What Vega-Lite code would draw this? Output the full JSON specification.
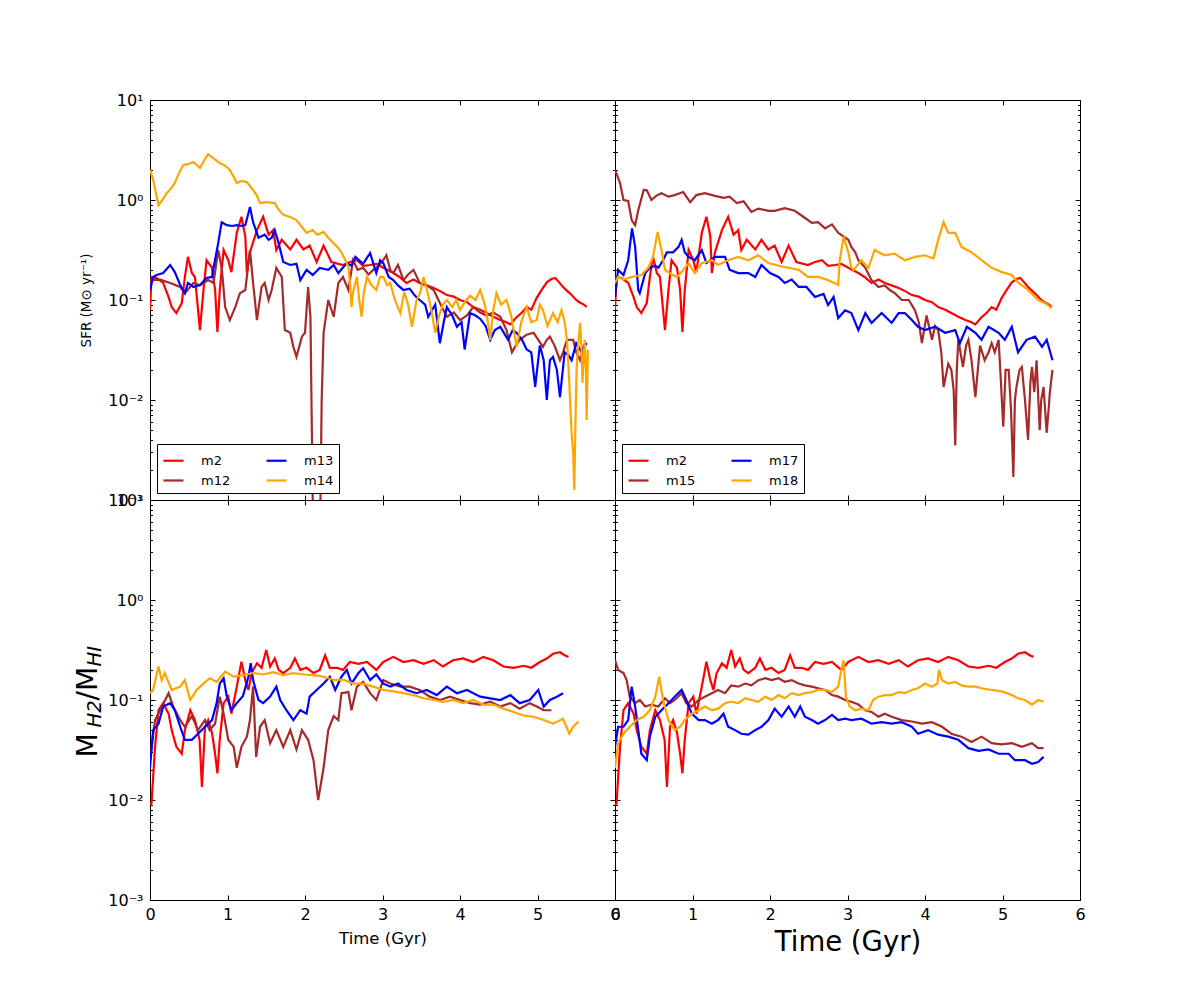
{
  "$schema": "https://vega.github.io/schema/vega-lite/v6.json",
  "padding": {"left": 73, "top": 91, "right": 5, "bottom": 5},
  "background": "white",
  "config": {
    "view": {"stroke": "black", "strokeWidth": 1},
    "axis": {"grid": false, "domainColor": "black", "tickColor": "black", "labelColor": "black", "titleColor": "black", "labelFont": "DejaVu Sans", "titleFont": "DejaVu Sans", "titleFontWeight": "normal", "labelFlush": false, "labelOverlap": false, "labelFontSize": 16, "tickWidth": 1},
    "legend": {"labelFont": "DejaVu Sans", "labelFontSize": 13, "labelColor": "black"},
    "line": {"strokeWidth": 2.2, "clip": true}
  },
  "datasets": {
    "sfr": [
      {"model":"m2","t":0,"v":0.079},{"model":"m2","t":0.02,"v":0.17},{"model":"m2","t":0.09,"v":0.165},{"model":"m2","t":0.17,"v":0.148},{"model":"m2","t":0.24,"v":0.107},{"model":"m2","t":0.28,"v":0.085},{"model":"m2","t":0.34,"v":0.074},{"model":"m2","t":0.41,"v":0.093},{"model":"m2","t":0.45,"v":0.17},{"model":"m2","t":0.49,"v":0.27},{"model":"m2","t":0.54,"v":0.186},{"model":"m2","t":0.58,"v":0.17},{"model":"m2","t":0.645,"v":0.05},{"model":"m2","t":0.69,"v":0.126},{"model":"m2","t":0.73,"v":0.25},{"model":"m2","t":0.8,"v":0.21},{"model":"m2","t":0.84,"v":0.126},{"model":"m2","t":0.87,"v":0.048},{"model":"m2","t":0.9,"v":0.126},{"model":"m2","t":0.95,"v":0.316},{"model":"m2","t":1.01,"v":0.25},{"model":"m2","t":1.05,"v":0.19},{"model":"m2","t":1.12,"v":0.47},{"model":"m2","t":1.18,"v":0.68},{"model":"m2","t":1.23,"v":0.43},{"model":"m2","t":1.25,"v":0.186},{"model":"m2","t":1.29,"v":0.3},{"model":"m2","t":1.38,"v":0.5},{"model":"m2","t":1.46,"v":0.68},{"model":"m2","t":1.53,"v":0.45},{"model":"m2","t":1.59,"v":0.5},{"model":"m2","t":1.63,"v":0.316},{"model":"m2","t":1.7,"v":0.4},{"model":"m2","t":1.81,"v":0.32},{"model":"m2","t":1.89,"v":0.4},{"model":"m2","t":1.98,"v":0.32},{"model":"m2","t":2.06,"v":0.35},{"model":"m2","t":2.15,"v":0.24},{"model":"m2","t":2.24,"v":0.35},{"model":"m2","t":2.34,"v":0.24},{"model":"m2","t":2.49,"v":0.224},{"model":"m2","t":2.58,"v":0.24},{"model":"m2","t":2.67,"v":0.25},{"model":"m2","t":2.75,"v":0.22},{"model":"m2","t":2.84,"v":0.224},{"model":"m2","t":2.92,"v":0.23},{"model":"m2","t":3.01,"v":0.21},{"model":"m2","t":3.14,"v":0.186},{"model":"m2","t":3.22,"v":0.17},{"model":"m2","t":3.31,"v":0.148},{"model":"m2","t":3.4,"v":0.16},{"model":"m2","t":3.48,"v":0.148},{"model":"m2","t":3.57,"v":0.14},{"model":"m2","t":3.66,"v":0.132},{"model":"m2","t":3.75,"v":0.122},{"model":"m2","t":3.83,"v":0.112},{"model":"m2","t":3.92,"v":0.108},{"model":"m2","t":4.0,"v":0.1},{"model":"m2","t":4.09,"v":0.095},{"model":"m2","t":4.17,"v":0.085},{"model":"m2","t":4.26,"v":0.08},{"model":"m2","t":4.34,"v":0.074},{"model":"m2","t":4.43,"v":0.068},{"model":"m2","t":4.52,"v":0.063},{"model":"m2","t":4.6,"v":0.06},{"model":"m2","t":4.65,"v":0.057},{"model":"m2","t":4.72,"v":0.066},{"model":"m2","t":4.8,"v":0.075},{"model":"m2","t":4.86,"v":0.085},{"model":"m2","t":4.92,"v":0.08},{"model":"m2","t":4.99,"v":0.105},{"model":"m2","t":5.05,"v":0.125},{"model":"m2","t":5.12,"v":0.15},{"model":"m2","t":5.18,"v":0.162},{"model":"m2","t":5.23,"v":0.166},{"model":"m2","t":5.28,"v":0.15},{"model":"m2","t":5.33,"v":0.135},{"model":"m2","t":5.39,"v":0.122},{"model":"m2","t":5.44,"v":0.112},{"model":"m2","t":5.5,"v":0.1},{"model":"m2","t":5.55,"v":0.094},{"model":"m2","t":5.6,"v":0.09},{"model":"m2","t":5.635,"v":0.085},
      {"model":"m12","t":0,"v":0.15},{"model":"m12","t":0.02,"v":0.158},{"model":"m12","t":0.13,"v":0.16},{"model":"m12","t":0.26,"v":0.148},{"model":"m12","t":0.39,"v":0.135},{"model":"m12","t":0.45,"v":0.117},{"model":"m12","t":0.56,"v":0.148},{"model":"m12","t":0.645,"v":0.14},{"model":"m12","t":0.75,"v":0.158},{"model":"m12","t":0.82,"v":0.148},{"model":"m12","t":0.88,"v":0.316},{"model":"m12","t":0.925,"v":0.21},{"model":"m12","t":0.97,"v":0.085},{"model":"m12","t":1.03,"v":0.063},{"model":"m12","t":1.1,"v":0.085},{"model":"m12","t":1.16,"v":0.117},{"model":"m12","t":1.23,"v":0.126},{"model":"m12","t":1.29,"v":0.316},{"model":"m12","t":1.33,"v":0.148},{"model":"m12","t":1.38,"v":0.063},{"model":"m12","t":1.44,"v":0.135},{"model":"m12","t":1.48,"v":0.148},{"model":"m12","t":1.53,"v":0.1},{"model":"m12","t":1.57,"v":0.126},{"model":"m12","t":1.63,"v":0.209},{"model":"m12","t":1.7,"v":0.17},{"model":"m12","t":1.74,"v":0.05},{"model":"m12","t":1.81,"v":0.047},{"model":"m12","t":1.85,"v":0.034},{"model":"m12","t":1.89,"v":0.027},{"model":"m12","t":1.96,"v":0.043},{"model":"m12","t":2.0,"v":0.047},{"model":"m12","t":2.04,"v":0.135},{"model":"m12","t":2.07,"v":0.068},{"model":"m12","t":2.1,"v":0.001},{"model":"m12","t":2.12,"v":0.0003},{"model":"m12","t":2.18,"v":0.0003},{"model":"m12","t":2.2,"v":0.001},{"model":"m12","t":2.215,"v":0.01},{"model":"m12","t":2.24,"v":0.047},{"model":"m12","t":2.3,"v":0.1},{"model":"m12","t":2.37,"v":0.068},{"model":"m12","t":2.43,"v":0.148},{"model":"m12","t":2.49,"v":0.17},{"model":"m12","t":2.56,"v":0.126},{"model":"m12","t":2.62,"v":0.25},{"model":"m12","t":2.68,"v":0.2},{"model":"m12","t":2.75,"v":0.21},{"model":"m12","t":2.82,"v":0.18},{"model":"m12","t":2.88,"v":0.2},{"model":"m12","t":2.95,"v":0.22},{"model":"m12","t":3.01,"v":0.25},{"model":"m12","t":3.05,"v":0.28},{"model":"m12","t":3.1,"v":0.2},{"model":"m12","t":3.14,"v":0.186},{"model":"m12","t":3.2,"v":0.224},{"model":"m12","t":3.27,"v":0.158},{"model":"m12","t":3.33,"v":0.18},{"model":"m12","t":3.4,"v":0.2},{"model":"m12","t":3.48,"v":0.148},{"model":"m12","t":3.57,"v":0.14},{"model":"m12","t":3.66,"v":0.126},{"model":"m12","t":3.75,"v":0.09},{"model":"m12","t":3.83,"v":0.068},{"model":"m12","t":3.92,"v":0.075},{"model":"m12","t":4.0,"v":0.063},{"model":"m12","t":4.09,"v":0.07},{"model":"m12","t":4.17,"v":0.085},{"model":"m12","t":4.26,"v":0.075},{"model":"m12","t":4.34,"v":0.07},{"model":"m12","t":4.43,"v":0.075},{"model":"m12","t":4.52,"v":0.068},{"model":"m12","t":4.6,"v":0.05},{"model":"m12","t":4.67,"v":0.03},{"model":"m12","t":4.72,"v":0.035},{"model":"m12","t":4.77,"v":0.04},{"model":"m12","t":4.86,"v":0.045},{"model":"m12","t":4.95,"v":0.047},{"model":"m12","t":5.01,"v":0.04},{"model":"m12","t":5.07,"v":0.034},{"model":"m12","t":5.12,"v":0.04},{"model":"m12","t":5.16,"v":0.043},{"model":"m12","t":5.22,"v":0.035},{"model":"m12","t":5.29,"v":0.025},{"model":"m12","t":5.33,"v":0.03},{"model":"m12","t":5.38,"v":0.04},{"model":"m12","t":5.46,"v":0.04},{"model":"m12","t":5.5,"v":0.03},{"model":"m12","t":5.55,"v":0.025},{"model":"m12","t":5.6,"v":0.035},{"model":"m12","t":5.635,"v":0.037},
      {"model":"m13","t":0,"v":0.126},{"model":"m13","t":0.04,"v":0.17},{"model":"m13","t":0.086,"v":0.178},{"model":"m13","t":0.17,"v":0.186},{"model":"m13","t":0.26,"v":0.224},{"model":"m13","t":0.32,"v":0.19},{"model":"m13","t":0.39,"v":0.141},{"model":"m13","t":0.45,"v":0.117},{"model":"m13","t":0.49,"v":0.148},{"model":"m13","t":0.56,"v":0.135},{"model":"m13","t":0.645,"v":0.141},{"model":"m13","t":0.73,"v":0.166},{"model":"m13","t":0.8,"v":0.17},{"model":"m13","t":0.82,"v":0.21},{"model":"m13","t":0.88,"v":0.37},{"model":"m13","t":0.925,"v":0.6},{"model":"m13","t":0.99,"v":0.56},{"model":"m13","t":1.06,"v":0.55},{"model":"m13","t":1.12,"v":0.56},{"model":"m13","t":1.18,"v":0.55},{"model":"m13","t":1.23,"v":0.56},{"model":"m13","t":1.29,"v":0.85},{"model":"m13","t":1.33,"v":0.6},{"model":"m13","t":1.4,"v":0.42},{"model":"m13","t":1.48,"v":0.45},{"model":"m13","t":1.53,"v":0.4},{"model":"m13","t":1.57,"v":0.42},{"model":"m13","t":1.61,"v":0.5},{"model":"m13","t":1.66,"v":0.37},{"model":"m13","t":1.72,"v":0.24},{"model":"m13","t":1.81,"v":0.224},{"model":"m13","t":1.89,"v":0.23},{"model":"m13","t":1.94,"v":0.158},{"model":"m13","t":2.02,"v":0.2},{"model":"m13","t":2.1,"v":0.178},{"model":"m13","t":2.19,"v":0.209},{"model":"m13","t":2.3,"v":0.2},{"model":"m13","t":2.37,"v":0.224},{"model":"m13","t":2.43,"v":0.186},{"model":"m13","t":2.54,"v":0.234},{"model":"m13","t":2.6,"v":0.22},{"model":"m13","t":2.65,"v":0.27},{"model":"m13","t":2.75,"v":0.23},{"model":"m13","t":2.84,"v":0.295},{"model":"m13","t":2.92,"v":0.186},{"model":"m13","t":2.97,"v":0.25},{"model":"m13","t":3.01,"v":0.234},{"model":"m13","t":3.08,"v":0.17},{"model":"m13","t":3.14,"v":0.158},{"model":"m13","t":3.2,"v":0.14},{"model":"m13","t":3.27,"v":0.126},{"model":"m13","t":3.35,"v":0.13},{"model":"m13","t":3.42,"v":0.11},{"model":"m13","t":3.48,"v":0.1},{"model":"m13","t":3.55,"v":0.09},{"model":"m13","t":3.59,"v":0.068},{"model":"m13","t":3.68,"v":0.09},{"model":"m13","t":3.74,"v":0.037},{"model":"m13","t":3.79,"v":0.06},{"model":"m13","t":3.83,"v":0.085},{"model":"m13","t":3.9,"v":0.07},{"model":"m13","t":3.96,"v":0.054},{"model":"m13","t":4.02,"v":0.06},{"model":"m13","t":4.06,"v":0.032},{"model":"m13","t":4.13,"v":0.074},{"model":"m13","t":4.2,"v":0.07},{"model":"m13","t":4.26,"v":0.065},{"model":"m13","t":4.33,"v":0.055},{"model":"m13","t":4.39,"v":0.04},{"model":"m13","t":4.45,"v":0.05},{"model":"m13","t":4.52,"v":0.054},{"model":"m13","t":4.58,"v":0.045},{"model":"m13","t":4.62,"v":0.04},{"model":"m13","t":4.68,"v":0.05},{"model":"m13","t":4.73,"v":0.047},{"model":"m13","t":4.8,"v":0.04},{"model":"m13","t":4.86,"v":0.032},{"model":"m13","t":4.92,"v":0.03},{"model":"m13","t":4.97,"v":0.0135},{"model":"m13","t":5.03,"v":0.035},{"model":"m13","t":5.08,"v":0.025},{"model":"m13","t":5.12,"v":0.01},{"model":"m13","t":5.16,"v":0.025},{"model":"m13","t":5.2,"v":0.027},{"model":"m13","t":5.25,"v":0.02},{"model":"m13","t":5.29,"v":0.0107},{"model":"m13","t":5.35,"v":0.03},{"model":"m13","t":5.4,"v":0.028},{"model":"m13","t":5.44,"v":0.025},{"model":"m13","t":5.5,"v":0.037},{"model":"m13","t":5.57,"v":0.03},{"model":"m13","t":5.6,"v":0.035},{"model":"m13","t":5.635,"v":0.037},
      {"model":"m14","t":0,"v":2.0},{"model":"m14","t":0.04,"v":1.6},{"model":"m14","t":0.11,"v":0.89},{"model":"m14","t":0.16,"v":1.0},{"model":"m14","t":0.215,"v":1.17},{"model":"m14","t":0.27,"v":1.3},{"model":"m14","t":0.32,"v":1.48},{"model":"m14","t":0.38,"v":1.9},{"model":"m14","t":0.43,"v":2.24},{"model":"m14","t":0.5,"v":2.3},{"model":"m14","t":0.56,"v":2.4},{"model":"m14","t":0.645,"v":2.09},{"model":"m14","t":0.7,"v":2.5},{"model":"m14","t":0.75,"v":2.88},{"model":"m14","t":0.82,"v":2.6},{"model":"m14","t":0.9,"v":2.34},{"model":"m14","t":0.97,"v":2.2},{"model":"m14","t":1.03,"v":2.0},{"model":"m14","t":1.08,"v":1.7},{"model":"m14","t":1.12,"v":1.48},{"model":"m14","t":1.18,"v":1.55},{"model":"m14","t":1.25,"v":1.51},{"model":"m14","t":1.33,"v":1.26},{"model":"m14","t":1.38,"v":1.1},{"model":"m14","t":1.42,"v":0.93},{"model":"m14","t":1.5,"v":0.95},{"model":"m14","t":1.61,"v":0.93},{"model":"m14","t":1.66,"v":0.8},{"model":"m14","t":1.72,"v":0.71},{"model":"m14","t":1.8,"v":0.68},{"model":"m14","t":1.89,"v":0.63},{"model":"m14","t":1.95,"v":0.55},{"model":"m14","t":2.02,"v":0.47},{"model":"m14","t":2.1,"v":0.5},{"model":"m14","t":2.16,"v":0.45},{"model":"m14","t":2.24,"v":0.48},{"model":"m14","t":2.3,"v":0.42},{"model":"m14","t":2.37,"v":0.37},{"model":"m14","t":2.43,"v":0.33},{"model":"m14","t":2.47,"v":0.3},{"model":"m14","t":2.52,"v":0.25},{"model":"m14","t":2.56,"v":0.214},{"model":"m14","t":2.58,"v":0.15},{"model":"m14","t":2.6,"v":0.085},{"model":"m14","t":2.62,"v":0.12},{"model":"m14","t":2.67,"v":0.17},{"model":"m14","t":2.7,"v":0.1},{"model":"m14","t":2.73,"v":0.068},{"model":"m14","t":2.76,"v":0.12},{"model":"m14","t":2.8,"v":0.17},{"model":"m14","t":2.86,"v":0.14},{"model":"m14","t":2.92,"v":0.126},{"model":"m14","t":2.97,"v":0.17},{"model":"m14","t":3.01,"v":0.17},{"model":"m14","t":3.06,"v":0.14},{"model":"m14","t":3.1,"v":0.148},{"model":"m14","t":3.16,"v":0.1},{"model":"m14","t":3.23,"v":0.074},{"model":"m14","t":3.28,"v":0.12},{"model":"m14","t":3.33,"v":0.09},{"model":"m14","t":3.38,"v":0.054},{"model":"m14","t":3.44,"v":0.1},{"model":"m14","t":3.49,"v":0.12},{"model":"m14","t":3.53,"v":0.17},{"model":"m14","t":3.58,"v":0.12},{"model":"m14","t":3.63,"v":0.08},{"model":"m14","t":3.68,"v":0.047},{"model":"m14","t":3.73,"v":0.07},{"model":"m14","t":3.78,"v":0.09},{"model":"m14","t":3.83,"v":0.1},{"model":"m14","t":3.9,"v":0.085},{"model":"m14","t":3.95,"v":0.1},{"model":"m14","t":4.0,"v":0.079},{"model":"m14","t":4.06,"v":0.095},{"model":"m14","t":4.13,"v":0.11},{"model":"m14","t":4.2,"v":0.1},{"model":"m14","t":4.26,"v":0.126},{"model":"m14","t":4.32,"v":0.09},{"model":"m14","t":4.36,"v":0.06},{"model":"m14","t":4.39,"v":0.04},{"model":"m14","t":4.43,"v":0.08},{"model":"m14","t":4.47,"v":0.117},{"model":"m14","t":4.53,"v":0.09},{"model":"m14","t":4.6,"v":0.1},{"model":"m14","t":4.66,"v":0.07},{"model":"m14","t":4.73,"v":0.034},{"model":"m14","t":4.79,"v":0.06},{"model":"m14","t":4.86,"v":0.085},{"model":"m14","t":4.92,"v":0.06},{"model":"m14","t":4.99,"v":0.063},{"model":"m14","t":5.03,"v":0.09},{"model":"m14","t":5.07,"v":0.079},{"model":"m14","t":5.13,"v":0.055},{"model":"m14","t":5.2,"v":0.074},{"model":"m14","t":5.26,"v":0.06},{"model":"m14","t":5.31,"v":0.079},{"model":"m14","t":5.35,"v":0.06},{"model":"m14","t":5.38,"v":0.04},{"model":"m14","t":5.41,"v":0.015},{"model":"m14","t":5.44,"v":0.0047},{"model":"m14","t":5.46,"v":0.003},{"model":"m14","t":5.475,"v":0.00126},{"model":"m14","t":5.49,"v":0.006},{"model":"m14","t":5.505,"v":0.0214},{"model":"m14","t":5.53,"v":0.04},{"model":"m14","t":5.55,"v":0.059},{"model":"m14","t":5.57,"v":0.03},{"model":"m14","t":5.58,"v":0.0148},{"model":"m14","t":5.6,"v":0.03},{"model":"m14","t":5.61,"v":0.04},{"model":"m14","t":5.625,"v":0.02},{"model":"m14","t":5.635,"v":0.0063},{"model":"m14","t":5.65,"v":0.0316},
      {"model":"m15","t":0,"v":2.0},{"model":"m15","t":0.065,"v":1.48},{"model":"m15","t":0.11,"v":1.0},{"model":"m15","t":0.17,"v":0.98},{"model":"m15","t":0.215,"v":0.63},{"model":"m15","t":0.26,"v":0.56},{"model":"m15","t":0.3,"v":0.79},{"model":"m15","t":0.37,"v":1.26},{"model":"m15","t":0.41,"v":1.25},{"model":"m15","t":0.47,"v":1.0},{"model":"m15","t":0.53,"v":1.1},{"model":"m15","t":0.6,"v":1.17},{"model":"m15","t":0.69,"v":1.08},{"model":"m15","t":0.77,"v":1.12},{"model":"m15","t":0.88,"v":1.2},{"model":"m15","t":0.97,"v":0.95},{"model":"m15","t":1.05,"v":1.12},{"model":"m15","t":1.16,"v":1.17},{"model":"m15","t":1.29,"v":1.1},{"model":"m15","t":1.4,"v":1.05},{"model":"m15","t":1.48,"v":1.08},{"model":"m15","t":1.57,"v":0.93},{"model":"m15","t":1.66,"v":0.97},{"model":"m15","t":1.76,"v":0.76},{"model":"m15","t":1.85,"v":0.82},{"model":"m15","t":1.98,"v":0.78},{"model":"m15","t":2.06,"v":0.78},{"model":"m15","t":2.19,"v":0.83},{"model":"m15","t":2.32,"v":0.78},{"model":"m15","t":2.43,"v":0.68},{"model":"m15","t":2.54,"v":0.59},{"model":"m15","t":2.62,"v":0.6},{"model":"m15","t":2.71,"v":0.52},{"model":"m15","t":2.8,"v":0.57},{"model":"m15","t":2.88,"v":0.47},{"model":"m15","t":3.01,"v":0.4},{"model":"m15","t":3.05,"v":0.34},{"model":"m15","t":3.1,"v":0.3},{"model":"m15","t":3.14,"v":0.25},{"model":"m15","t":3.23,"v":0.21},{"model":"m15","t":3.31,"v":0.158},{"model":"m15","t":3.4,"v":0.135},{"model":"m15","t":3.48,"v":0.14},{"model":"m15","t":3.55,"v":0.125},{"model":"m15","t":3.61,"v":0.117},{"model":"m15","t":3.7,"v":0.1},{"model":"m15","t":3.79,"v":0.1},{"model":"m15","t":3.87,"v":0.079},{"model":"m15","t":3.92,"v":0.06},{"model":"m15","t":3.96,"v":0.037},{"model":"m15","t":4.02,"v":0.07},{"model":"m15","t":4.09,"v":0.04},{"model":"m15","t":4.13,"v":0.055},{"model":"m15","t":4.17,"v":0.05},{"model":"m15","t":4.21,"v":0.03},{"model":"m15","t":4.24,"v":0.0135},{"model":"m15","t":4.3,"v":0.023},{"model":"m15","t":4.34,"v":0.02},{"model":"m15","t":4.37,"v":0.0126},{"model":"m15","t":4.39,"v":0.0035},{"model":"m15","t":4.41,"v":0.02},{"model":"m15","t":4.43,"v":0.04},{"model":"m15","t":4.49,"v":0.0214},{"model":"m15","t":4.53,"v":0.035},{"model":"m15","t":4.56,"v":0.04},{"model":"m15","t":4.6,"v":0.025},{"model":"m15","t":4.65,"v":0.0107},{"model":"m15","t":4.71,"v":0.035},{"model":"m15","t":4.77,"v":0.025},{"model":"m15","t":4.82,"v":0.03},{"model":"m15","t":4.86,"v":0.037},{"model":"m15","t":4.9,"v":0.03},{"model":"m15","t":4.95,"v":0.04},{"model":"m15","t":4.98,"v":0.015},{"model":"m15","t":5.01,"v":0.0054},{"model":"m15","t":5.04,"v":0.02},{"model":"m15","t":5.08,"v":0.02},{"model":"m15","t":5.11,"v":0.008},{"model":"m15","t":5.14,"v":0.0017},{"model":"m15","t":5.16,"v":0.01},{"model":"m15","t":5.18,"v":0.0135},{"model":"m15","t":5.22,"v":0.02},{"model":"m15","t":5.25,"v":0.0214},{"model":"m15","t":5.29,"v":0.01},{"model":"m15","t":5.33,"v":0.004},{"model":"m15","t":5.36,"v":0.015},{"model":"m15","t":5.38,"v":0.0214},{"model":"m15","t":5.41,"v":0.012},{"model":"m15","t":5.44,"v":0.025},{"model":"m15","t":5.48,"v":0.005},{"model":"m15","t":5.5,"v":0.01},{"model":"m15","t":5.53,"v":0.0135},{"model":"m15","t":5.57,"v":0.0047},{"model":"m15","t":5.6,"v":0.009},{"model":"m15","t":5.61,"v":0.0117},{"model":"m15","t":5.645,"v":0.02},
      {"model":"m17","t":0,"v":0.107},{"model":"m17","t":0.04,"v":0.2},{"model":"m17","t":0.11,"v":0.178},{"model":"m17","t":0.17,"v":0.25},{"model":"m17","t":0.22,"v":0.52},{"model":"m17","t":0.26,"v":0.34},{"model":"m17","t":0.3,"v":0.126},{"model":"m17","t":0.32,"v":0.117},{"model":"m17","t":0.39,"v":0.186},{"model":"m17","t":0.45,"v":0.21},{"model":"m17","t":0.52,"v":0.22},{"model":"m17","t":0.56,"v":0.21},{"model":"m17","t":0.62,"v":0.25},{"model":"m17","t":0.67,"v":0.3},{"model":"m17","t":0.75,"v":0.3},{"model":"m17","t":0.82,"v":0.34},{"model":"m17","t":0.86,"v":0.4},{"model":"m17","t":0.9,"v":0.3},{"model":"m17","t":0.95,"v":0.27},{"model":"m17","t":1.03,"v":0.25},{"model":"m17","t":1.12,"v":0.316},{"model":"m17","t":1.18,"v":0.234},{"model":"m17","t":1.29,"v":0.27},{"model":"m17","t":1.42,"v":0.27},{"model":"m17","t":1.48,"v":0.2},{"model":"m17","t":1.59,"v":0.186},{"model":"m17","t":1.72,"v":0.186},{"model":"m17","t":1.81,"v":0.17},{"model":"m17","t":1.89,"v":0.224},{"model":"m17","t":2.0,"v":0.186},{"model":"m17","t":2.11,"v":0.17},{"model":"m17","t":2.19,"v":0.148},{"model":"m17","t":2.28,"v":0.16},{"model":"m17","t":2.37,"v":0.135},{"model":"m17","t":2.47,"v":0.135},{"model":"m17","t":2.58,"v":0.107},{"model":"m17","t":2.69,"v":0.115},{"model":"m17","t":2.75,"v":0.089},{"model":"m17","t":2.82,"v":0.107},{"model":"m17","t":2.88,"v":0.066},{"model":"m17","t":2.97,"v":0.079},{"model":"m17","t":3.05,"v":0.074},{"model":"m17","t":3.14,"v":0.05},{"model":"m17","t":3.23,"v":0.074},{"model":"m17","t":3.31,"v":0.059},{"model":"m17","t":3.44,"v":0.074},{"model":"m17","t":3.57,"v":0.059},{"model":"m17","t":3.66,"v":0.074},{"model":"m17","t":3.74,"v":0.074},{"model":"m17","t":3.83,"v":0.063},{"model":"m17","t":3.91,"v":0.054},{"model":"m17","t":4.0,"v":0.05},{"model":"m17","t":4.13,"v":0.054},{"model":"m17","t":4.26,"v":0.047},{"model":"m17","t":4.39,"v":0.05},{"model":"m17","t":4.45,"v":0.037},{"model":"m17","t":4.54,"v":0.054},{"model":"m17","t":4.65,"v":0.047},{"model":"m17","t":4.73,"v":0.04},{"model":"m17","t":4.82,"v":0.054},{"model":"m17","t":4.95,"v":0.047},{"model":"m17","t":5.03,"v":0.04},{"model":"m17","t":5.12,"v":0.054},{"model":"m17","t":5.2,"v":0.03},{"model":"m17","t":5.31,"v":0.04},{"model":"m17","t":5.42,"v":0.043},{"model":"m17","t":5.51,"v":0.034},{"model":"m17","t":5.57,"v":0.04},{"model":"m17","t":5.645,"v":0.025},
      {"model":"m18","t":0,"v":0.148},{"model":"m18","t":0.04,"v":0.17},{"model":"m18","t":0.11,"v":0.16},{"model":"m18","t":0.215,"v":0.17},{"model":"m18","t":0.34,"v":0.178},{"model":"m18","t":0.43,"v":0.21},{"model":"m18","t":0.49,"v":0.27},{"model":"m18","t":0.55,"v":0.48},{"model":"m18","t":0.6,"v":0.316},{"model":"m18","t":0.645,"v":0.2},{"model":"m18","t":0.73,"v":0.18},{"model":"m18","t":0.8,"v":0.17},{"model":"m18","t":0.86,"v":0.19},{"model":"m18","t":0.95,"v":0.234},{"model":"m18","t":1.03,"v":0.186},{"model":"m18","t":1.12,"v":0.234},{"model":"m18","t":1.25,"v":0.25},{"model":"m18","t":1.33,"v":0.224},{"model":"m18","t":1.46,"v":0.25},{"model":"m18","t":1.59,"v":0.27},{"model":"m18","t":1.72,"v":0.25},{"model":"m18","t":1.85,"v":0.28},{"model":"m18","t":1.98,"v":0.234},{"model":"m18","t":2.11,"v":0.22},{"model":"m18","t":2.24,"v":0.21},{"model":"m18","t":2.37,"v":0.2},{"model":"m18","t":2.49,"v":0.17},{"model":"m18","t":2.62,"v":0.17},{"model":"m18","t":2.75,"v":0.158},{"model":"m18","t":2.88,"v":0.141},{"model":"m18","t":2.9,"v":0.25},{"model":"m18","t":2.95,"v":0.43},{"model":"m18","t":3.01,"v":0.3},{"model":"m18","t":3.05,"v":0.21},{"model":"m18","t":3.08,"v":0.2},{"model":"m18","t":3.18,"v":0.25},{"model":"m18","t":3.27,"v":0.21},{"model":"m18","t":3.35,"v":0.316},{"model":"m18","t":3.48,"v":0.28},{"model":"m18","t":3.61,"v":0.29},{"model":"m18","t":3.74,"v":0.25},{"model":"m18","t":3.87,"v":0.27},{"model":"m18","t":4.0,"v":0.28},{"model":"m18","t":4.11,"v":0.26},{"model":"m18","t":4.17,"v":0.4},{"model":"m18","t":4.24,"v":0.6},{"model":"m18","t":4.3,"v":0.47},{"model":"m18","t":4.39,"v":0.47},{"model":"m18","t":4.47,"v":0.34},{"model":"m18","t":4.6,"v":0.3},{"model":"m18","t":4.73,"v":0.25},{"model":"m18","t":4.86,"v":0.21},{"model":"m18","t":4.99,"v":0.19},{"model":"m18","t":5.12,"v":0.178},{"model":"m18","t":5.2,"v":0.15},{"model":"m18","t":5.33,"v":0.126},{"model":"m18","t":5.46,"v":0.1},{"model":"m18","t":5.55,"v":0.093},{"model":"m18","t":5.635,"v":0.083}
    ],
    "ratio": [
      {"model":"m2","t":0,"v":0.009},{"model":"m2","t":0.02,"v":0.0093},{"model":"m2","t":0.065,"v":0.034},{"model":"m2","t":0.11,"v":0.079},{"model":"m2","t":0.17,"v":0.093},{"model":"m2","t":0.24,"v":0.073},{"model":"m2","t":0.28,"v":0.05},{"model":"m2","t":0.34,"v":0.034},{"model":"m2","t":0.41,"v":0.029},{"model":"m2","t":0.45,"v":0.05},{"model":"m2","t":0.52,"v":0.079},{"model":"m2","t":0.58,"v":0.063},{"model":"m2","t":0.64,"v":0.04},{"model":"m2","t":0.67,"v":0.0135},{"model":"m2","t":0.71,"v":0.054},{"model":"m2","t":0.75,"v":0.063},{"model":"m2","t":0.8,"v":0.047},{"model":"m2","t":0.84,"v":0.029},{"model":"m2","t":0.87,"v":0.0185},{"model":"m2","t":0.9,"v":0.04},{"model":"m2","t":0.95,"v":0.093},{"model":"m2","t":1.01,"v":0.108},{"model":"m2","t":1.05,"v":0.073},{"model":"m2","t":1.12,"v":0.136},{"model":"m2","t":1.18,"v":0.242},{"model":"m2","t":1.23,"v":0.158},{"model":"m2","t":1.27,"v":0.126},{"model":"m2","t":1.31,"v":0.185},{"model":"m2","t":1.38,"v":0.233},{"model":"m2","t":1.44,"v":0.21},{"model":"m2","t":1.5,"v":0.316},{"model":"m2","t":1.55,"v":0.216},{"model":"m2","t":1.61,"v":0.26},{"model":"m2","t":1.66,"v":0.2},{"model":"m2","t":1.72,"v":0.186},{"model":"m2","t":1.81,"v":0.21},{"model":"m2","t":1.87,"v":0.26},{"model":"m2","t":1.94,"v":0.2},{"model":"m2","t":2.02,"v":0.21},{"model":"m2","t":2.11,"v":0.186},{"model":"m2","t":2.19,"v":0.2},{"model":"m2","t":2.26,"v":0.28},{"model":"m2","t":2.32,"v":0.21},{"model":"m2","t":2.41,"v":0.21},{"model":"m2","t":2.49,"v":0.2},{"model":"m2","t":2.58,"v":0.24},{"model":"m2","t":2.69,"v":0.23},{"model":"m2","t":2.8,"v":0.24},{"model":"m2","t":2.92,"v":0.2},{"model":"m2","t":3.01,"v":0.24},{"model":"m2","t":3.14,"v":0.27},{"model":"m2","t":3.27,"v":0.24},{"model":"m2","t":3.4,"v":0.25},{"model":"m2","t":3.53,"v":0.23},{"model":"m2","t":3.66,"v":0.25},{"model":"m2","t":3.78,"v":0.216},{"model":"m2","t":3.91,"v":0.25},{"model":"m2","t":4.04,"v":0.26},{"model":"m2","t":4.17,"v":0.24},{"model":"m2","t":4.3,"v":0.27},{"model":"m2","t":4.43,"v":0.25},{"model":"m2","t":4.56,"v":0.216},{"model":"m2","t":4.69,"v":0.21},{"model":"m2","t":4.82,"v":0.22},{"model":"m2","t":4.92,"v":0.21},{"model":"m2","t":5.03,"v":0.24},{"model":"m2","t":5.12,"v":0.26},{"model":"m2","t":5.2,"v":0.29},{"model":"m2","t":5.29,"v":0.3},{"model":"m2","t":5.35,"v":0.28},{"model":"m2","t":5.4,"v":0.27},
      {"model":"m12","t":0,"v":0.025},{"model":"m12","t":0.065,"v":0.063},{"model":"m12","t":0.13,"v":0.079},{"model":"m12","t":0.24,"v":0.117},{"model":"m12","t":0.3,"v":0.086},{"model":"m12","t":0.39,"v":0.063},{"model":"m12","t":0.45,"v":0.054},{"model":"m12","t":0.54,"v":0.069},{"model":"m12","t":0.62,"v":0.05},{"model":"m12","t":0.71,"v":0.063},{"model":"m12","t":0.77,"v":0.05},{"model":"m12","t":0.84,"v":0.058},{"model":"m12","t":0.9,"v":0.108},{"model":"m12","t":0.95,"v":0.073},{"model":"m12","t":1.01,"v":0.04},{"model":"m12","t":1.08,"v":0.034},{"model":"m12","t":1.12,"v":0.021},{"model":"m12","t":1.18,"v":0.034},{"model":"m12","t":1.25,"v":0.043},{"model":"m12","t":1.29,"v":0.063},{"model":"m12","t":1.33,"v":0.136},{"model":"m12","t":1.37,"v":0.027},{"model":"m12","t":1.42,"v":0.054},{"model":"m12","t":1.48,"v":0.063},{"model":"m12","t":1.55,"v":0.037},{"model":"m12","t":1.63,"v":0.05},{"model":"m12","t":1.72,"v":0.034},{"model":"m12","t":1.81,"v":0.05},{"model":"m12","t":1.89,"v":0.032},{"model":"m12","t":1.96,"v":0.05},{"model":"m12","t":2.04,"v":0.04},{"model":"m12","t":2.11,"v":0.025},{"model":"m12","t":2.17,"v":0.01},{"model":"m12","t":2.24,"v":0.021},{"model":"m12","t":2.3,"v":0.05},{"model":"m12","t":2.37,"v":0.069},{"model":"m12","t":2.43,"v":0.063},{"model":"m12","t":2.47,"v":0.117},{"model":"m12","t":2.56,"v":0.12},{"model":"m12","t":2.6,"v":0.079},{"model":"m12","t":2.67,"v":0.136},{"model":"m12","t":2.75,"v":0.152},{"model":"m12","t":2.84,"v":0.117},{"model":"m12","t":2.92,"v":0.1},{"model":"m12","t":3.01,"v":0.158},{"model":"m12","t":3.1,"v":0.146},{"model":"m12","t":3.23,"v":0.136},{"model":"m12","t":3.35,"v":0.136},{"model":"m12","t":3.48,"v":0.126},{"model":"m12","t":3.61,"v":0.108},{"model":"m12","t":3.74,"v":0.1},{"model":"m12","t":3.87,"v":0.108},{"model":"m12","t":4.0,"v":0.1},{"model":"m12","t":4.13,"v":0.093},{"model":"m12","t":4.26,"v":0.09},{"model":"m12","t":4.39,"v":0.096},{"model":"m12","t":4.52,"v":0.086},{"model":"m12","t":4.65,"v":0.093},{"model":"m12","t":4.77,"v":0.082},{"model":"m12","t":4.9,"v":0.093},{"model":"m12","t":4.99,"v":0.086},{"model":"m12","t":5.08,"v":0.079},{"model":"m12","t":5.18,"v":0.079},
      {"model":"m13","t":0,"v":0.021},{"model":"m13","t":0.04,"v":0.05},{"model":"m13","t":0.11,"v":0.058},{"model":"m13","t":0.17,"v":0.086},{"model":"m13","t":0.26,"v":0.093},{"model":"m13","t":0.32,"v":0.079},{"model":"m13","t":0.39,"v":0.054},{"model":"m13","t":0.45,"v":0.04},{"model":"m13","t":0.54,"v":0.04},{"model":"m13","t":0.62,"v":0.046},{"model":"m13","t":0.71,"v":0.054},{"model":"m13","t":0.8,"v":0.063},{"model":"m13","t":0.86,"v":0.093},{"model":"m13","t":0.9,"v":0.146},{"model":"m13","t":0.95,"v":0.165},{"model":"m13","t":0.99,"v":0.11},{"model":"m13","t":1.05,"v":0.079},{"model":"m13","t":1.12,"v":0.093},{"model":"m13","t":1.2,"v":0.11},{"model":"m13","t":1.27,"v":0.171},{"model":"m13","t":1.3,"v":0.233},{"model":"m13","t":1.33,"v":0.158},{"model":"m13","t":1.4,"v":0.1},{"model":"m13","t":1.46,"v":0.093},{"model":"m13","t":1.55,"v":0.108},{"model":"m13","t":1.63,"v":0.136},{"model":"m13","t":1.68,"v":0.1},{"model":"m13","t":1.76,"v":0.079},{"model":"m13","t":1.85,"v":0.063},{"model":"m13","t":1.94,"v":0.079},{"model":"m13","t":2.02,"v":0.073},{"model":"m13","t":2.06,"v":0.108},{"model":"m13","t":2.15,"v":0.126},{"model":"m13","t":2.24,"v":0.146},{"model":"m13","t":2.32,"v":0.171},{"model":"m13","t":2.39,"v":0.126},{"model":"m13","t":2.47,"v":0.171},{"model":"m13","t":2.54,"v":0.2},{"model":"m13","t":2.6,"v":0.146},{"model":"m13","t":2.69,"v":0.186},{"model":"m13","t":2.75,"v":0.208},{"model":"m13","t":2.84,"v":0.158},{"model":"m13","t":2.92,"v":0.18},{"model":"m13","t":3.01,"v":0.146},{"model":"m13","t":3.1,"v":0.136},{"model":"m13","t":3.2,"v":0.146},{"model":"m13","t":3.31,"v":0.126},{"model":"m13","t":3.44,"v":0.117},{"model":"m13","t":3.57,"v":0.126},{"model":"m13","t":3.7,"v":0.112},{"model":"m13","t":3.83,"v":0.136},{"model":"m13","t":3.96,"v":0.117},{"model":"m13","t":4.09,"v":0.126},{"model":"m13","t":4.26,"v":0.108},{"model":"m13","t":4.39,"v":0.104},{"model":"m13","t":4.52,"v":0.1},{"model":"m13","t":4.65,"v":0.112},{"model":"m13","t":4.77,"v":0.093},{"model":"m13","t":4.9,"v":0.1},{"model":"m13","t":5.01,"v":0.126},{"model":"m13","t":5.08,"v":0.086},{"model":"m13","t":5.16,"v":0.1},{"model":"m13","t":5.25,"v":0.108},{"model":"m13","t":5.33,"v":0.117},
      {"model":"m14","t":0,"v":0.117},{"model":"m14","t":0.04,"v":0.126},{"model":"m14","t":0.11,"v":0.216},{"model":"m14","t":0.15,"v":0.158},{"model":"m14","t":0.19,"v":0.186},{"model":"m14","t":0.28,"v":0.126},{"model":"m14","t":0.39,"v":0.136},{"model":"m14","t":0.45,"v":0.158},{"model":"m14","t":0.52,"v":0.1},{"model":"m14","t":0.6,"v":0.126},{"model":"m14","t":0.69,"v":0.146},{"model":"m14","t":0.77,"v":0.165},{"model":"m14","t":0.86,"v":0.152},{"model":"m14","t":0.97,"v":0.192},{"model":"m14","t":1.08,"v":0.171},{"model":"m14","t":1.2,"v":0.177},{"model":"m14","t":1.33,"v":0.186},{"model":"m14","t":1.46,"v":0.18},{"model":"m14","t":1.59,"v":0.19},{"model":"m14","t":1.72,"v":0.177},{"model":"m14","t":1.85,"v":0.186},{"model":"m14","t":1.98,"v":0.18},{"model":"m14","t":2.11,"v":0.177},{"model":"m14","t":2.24,"v":0.171},{"model":"m14","t":2.37,"v":0.158},{"model":"m14","t":2.49,"v":0.16},{"model":"m14","t":2.62,"v":0.146},{"model":"m14","t":2.75,"v":0.146},{"model":"m14","t":2.88,"v":0.136},{"model":"m14","t":3.01,"v":0.126},{"model":"m14","t":3.14,"v":0.122},{"model":"m14","t":3.27,"v":0.117},{"model":"m14","t":3.4,"v":0.112},{"model":"m14","t":3.53,"v":0.104},{"model":"m14","t":3.66,"v":0.1},{"model":"m14","t":3.78,"v":0.096},{"model":"m14","t":3.91,"v":0.1},{"model":"m14","t":4.04,"v":0.093},{"model":"m14","t":4.17,"v":0.1},{"model":"m14","t":4.3,"v":0.09},{"model":"m14","t":4.43,"v":0.09},{"model":"m14","t":4.56,"v":0.082},{"model":"m14","t":4.69,"v":0.076},{"model":"m14","t":4.82,"v":0.07},{"model":"m14","t":4.95,"v":0.068},{"model":"m14","t":5.08,"v":0.063},{"model":"m14","t":5.2,"v":0.058},{"model":"m14","t":5.33,"v":0.065},{"model":"m14","t":5.41,"v":0.046},{"model":"m14","t":5.46,"v":0.054},{"model":"m14","t":5.53,"v":0.061},
      {"model":"m15","t":0,"v":0.25},{"model":"m15","t":0.04,"v":0.2},{"model":"m15","t":0.11,"v":0.186},{"model":"m15","t":0.15,"v":0.158},{"model":"m15","t":0.19,"v":0.108},{"model":"m15","t":0.26,"v":0.093},{"model":"m15","t":0.32,"v":0.1},{"model":"m15","t":0.39,"v":0.086},{"model":"m15","t":0.47,"v":0.09},{"model":"m15","t":0.56,"v":0.086},{"model":"m15","t":0.645,"v":0.104},{"model":"m15","t":0.71,"v":0.093},{"model":"m15","t":0.77,"v":0.1},{"model":"m15","t":0.86,"v":0.117},{"model":"m15","t":0.92,"v":0.093},{"model":"m15","t":0.99,"v":0.086},{"model":"m15","t":1.08,"v":0.1},{"model":"m15","t":1.16,"v":0.108},{"model":"m15","t":1.25,"v":0.117},{"model":"m15","t":1.33,"v":0.126},{"model":"m15","t":1.42,"v":0.117},{"model":"m15","t":1.5,"v":0.14},{"model":"m15","t":1.59,"v":0.136},{"model":"m15","t":1.68,"v":0.146},{"model":"m15","t":1.76,"v":0.14},{"model":"m15","t":1.85,"v":0.158},{"model":"m15","t":1.94,"v":0.165},{"model":"m15","t":2.02,"v":0.158},{"model":"m15","t":2.11,"v":0.165},{"model":"m15","t":2.19,"v":0.152},{"model":"m15","t":2.28,"v":0.158},{"model":"m15","t":2.37,"v":0.146},{"model":"m15","t":2.45,"v":0.14},{"model":"m15","t":2.54,"v":0.136},{"model":"m15","t":2.62,"v":0.131},{"model":"m15","t":2.71,"v":0.126},{"model":"m15","t":2.8,"v":0.112},{"model":"m15","t":2.88,"v":0.108},{"model":"m15","t":2.97,"v":0.1},{"model":"m15","t":3.05,"v":0.096},{"model":"m15","t":3.14,"v":0.09},{"model":"m15","t":3.23,"v":0.079},{"model":"m15","t":3.31,"v":0.076},{"model":"m15","t":3.4,"v":0.068},{"model":"m15","t":3.48,"v":0.073},{"model":"m15","t":3.57,"v":0.068},{"model":"m15","t":3.7,"v":0.063},{"model":"m15","t":3.83,"v":0.061},{"model":"m15","t":3.96,"v":0.058},{"model":"m15","t":4.09,"v":0.06},{"model":"m15","t":4.22,"v":0.054},{"model":"m15","t":4.34,"v":0.046},{"model":"m15","t":4.47,"v":0.043},{"model":"m15","t":4.6,"v":0.038},{"model":"m15","t":4.73,"v":0.043},{"model":"m15","t":4.86,"v":0.037},{"model":"m15","t":4.99,"v":0.036},{"model":"m15","t":5.12,"v":0.037},{"model":"m15","t":5.25,"v":0.034},{"model":"m15","t":5.38,"v":0.037},{"model":"m15","t":5.46,"v":0.033},{"model":"m15","t":5.53,"v":0.033},
      {"model":"m17","t":0,"v":0.034},{"model":"m17","t":0.04,"v":0.054},{"model":"m17","t":0.11,"v":0.054},{"model":"m17","t":0.17,"v":0.063},{"model":"m17","t":0.215,"v":0.136},{"model":"m17","t":0.26,"v":0.086},{"model":"m17","t":0.3,"v":0.05},{"model":"m17","t":0.34,"v":0.029},{"model":"m17","t":0.41,"v":0.025},{"model":"m17","t":0.45,"v":0.043},{"model":"m17","t":0.52,"v":0.068},{"model":"m17","t":0.6,"v":0.079},{"model":"m17","t":0.69,"v":0.093},{"model":"m17","t":0.77,"v":0.108},{"model":"m17","t":0.86,"v":0.126},{"model":"m17","t":0.92,"v":0.1},{"model":"m17","t":0.99,"v":0.073},{"model":"m17","t":1.08,"v":0.063},{"model":"m17","t":1.16,"v":0.063},{"model":"m17","t":1.25,"v":0.058},{"model":"m17","t":1.33,"v":0.063},{"model":"m17","t":1.4,"v":0.073},{"model":"m17","t":1.46,"v":0.054},{"model":"m17","t":1.55,"v":0.05},{"model":"m17","t":1.63,"v":0.046},{"model":"m17","t":1.72,"v":0.045},{"model":"m17","t":1.81,"v":0.05},{"model":"m17","t":1.89,"v":0.054},{"model":"m17","t":1.98,"v":0.063},{"model":"m17","t":2.06,"v":0.082},{"model":"m17","t":2.15,"v":0.068},{"model":"m17","t":2.24,"v":0.086},{"model":"m17","t":2.32,"v":0.068},{"model":"m17","t":2.39,"v":0.086},{"model":"m17","t":2.45,"v":0.068},{"model":"m17","t":2.54,"v":0.063},{"model":"m17","t":2.62,"v":0.058},{"model":"m17","t":2.71,"v":0.063},{"model":"m17","t":2.8,"v":0.071},{"model":"m17","t":2.88,"v":0.063},{"model":"m17","t":2.97,"v":0.065},{"model":"m17","t":3.05,"v":0.063},{"model":"m17","t":3.18,"v":0.065},{"model":"m17","t":3.31,"v":0.058},{"model":"m17","t":3.44,"v":0.06},{"model":"m17","t":3.57,"v":0.058},{"model":"m17","t":3.7,"v":0.06},{"model":"m17","t":3.83,"v":0.054},{"model":"m17","t":3.91,"v":0.046},{"model":"m17","t":4.04,"v":0.05},{"model":"m17","t":4.17,"v":0.045},{"model":"m17","t":4.3,"v":0.043},{"model":"m17","t":4.43,"v":0.04},{"model":"m17","t":4.56,"v":0.033},{"model":"m17","t":4.69,"v":0.031},{"model":"m17","t":4.82,"v":0.032},{"model":"m17","t":4.95,"v":0.029},{"model":"m17","t":5.08,"v":0.029},{"model":"m17","t":5.16,"v":0.025},{"model":"m17","t":5.29,"v":0.025},{"model":"m17","t":5.38,"v":0.023},{"model":"m17","t":5.46,"v":0.024},{"model":"m17","t":5.53,"v":0.027},
      {"model":"m18","t":0,"v":0.021},{"model":"m18","t":0.04,"v":0.037},{"model":"m18","t":0.11,"v":0.046},{"model":"m18","t":0.19,"v":0.054},{"model":"m18","t":0.28,"v":0.063},{"model":"m18","t":0.37,"v":0.068},{"model":"m18","t":0.45,"v":0.079},{"model":"m18","t":0.52,"v":0.108},{"model":"m18","t":0.57,"v":0.171},{"model":"m18","t":0.62,"v":0.1},{"model":"m18","t":0.69,"v":0.063},{"model":"m18","t":0.77,"v":0.05},{"model":"m18","t":0.84,"v":0.054},{"model":"m18","t":0.9,"v":0.063},{"model":"m18","t":0.99,"v":0.073},{"model":"m18","t":1.08,"v":0.079},{"model":"m18","t":1.16,"v":0.086},{"model":"m18","t":1.25,"v":0.079},{"model":"m18","t":1.33,"v":0.082},{"model":"m18","t":1.42,"v":0.093},{"model":"m18","t":1.5,"v":0.096},{"model":"m18","t":1.59,"v":0.093},{"model":"m18","t":1.68,"v":0.104},{"model":"m18","t":1.76,"v":0.1},{"model":"m18","t":1.85,"v":0.096},{"model":"m18","t":1.94,"v":0.108},{"model":"m18","t":2.02,"v":0.1},{"model":"m18","t":2.11,"v":0.112},{"model":"m18","t":2.19,"v":0.104},{"model":"m18","t":2.28,"v":0.117},{"model":"m18","t":2.37,"v":0.112},{"model":"m18","t":2.45,"v":0.117},{"model":"m18","t":2.54,"v":0.12},{"model":"m18","t":2.62,"v":0.126},{"model":"m18","t":2.71,"v":0.126},{"model":"m18","t":2.8,"v":0.12},{"model":"m18","t":2.88,"v":0.136},{"model":"m18","t":2.92,"v":0.2},{"model":"m18","t":2.95,"v":0.25},{"model":"m18","t":2.98,"v":0.108},{"model":"m18","t":3.03,"v":0.086},{"model":"m18","t":3.1,"v":0.079},{"model":"m18","t":3.18,"v":0.082},{"model":"m18","t":3.27,"v":0.079},{"model":"m18","t":3.33,"v":0.1},{"model":"m18","t":3.4,"v":0.108},{"model":"m18","t":3.48,"v":0.112},{"model":"m18","t":3.57,"v":0.112},{"model":"m18","t":3.66,"v":0.12},{"model":"m18","t":3.74,"v":0.117},{"model":"m18","t":3.83,"v":0.126},{"model":"m18","t":3.91,"v":0.131},{"model":"m18","t":4.0,"v":0.146},{"model":"m18","t":4.09,"v":0.136},{"model":"m18","t":4.16,"v":0.146},{"model":"m18","t":4.18,"v":0.2},{"model":"m18","t":4.22,"v":0.158},{"model":"m18","t":4.3,"v":0.146},{"model":"m18","t":4.39,"v":0.152},{"model":"m18","t":4.47,"v":0.14},{"model":"m18","t":4.56,"v":0.136},{"model":"m18","t":4.65,"v":0.136},{"model":"m18","t":4.73,"v":0.131},{"model":"m18","t":4.86,"v":0.126},{"model":"m18","t":4.99,"v":0.122},{"model":"m18","t":5.12,"v":0.112},{"model":"m18","t":5.2,"v":0.104},{"model":"m18","t":5.29,"v":0.1},{"model":"m18","t":5.38,"v":0.09},{"model":"m18","t":5.46,"v":0.1},{"model":"m18","t":5.53,"v":0.096}
    ]
  },
  "concat": [
    {
      "width": 465, "height": 400,
      "data": {"name": "sfr"},
      "transform": [{"filter": {"field": "model", "oneOf": ["m2", "m12", "m13", "m14"]}}],
      "layer": [
        {
          "mark": {"type": "line", "strokeWidth": 2.2, "clip": true},
          "encoding": {
            "x": {"field": "t", "type": "quantitative", "scale": {"domain": [0, 6], "nice": false}, "axis": {"orient": "bottom", "values": [0, 1, 2, 3, 4, 5, 6], "tickSize": -5, "labels": false, "title": null}},
            "y": {"field": "v", "type": "quantitative", "scale": {"type": "log", "domain": [0.001, 10], "nice": false}, "axis": {"orient": "left", "values": [0.001,0.002,0.003,0.004,0.005,0.006,0.007,0.008,0.009,0.01,0.02,0.03,0.04,0.05,0.06,0.07,0.08,0.09,0.1,0.2,0.3,0.4,0.5,0.6,0.7,0.8,0.9,1,2,3,4,5,6,7,8,9,10], "tickSize": {"condition": {"test": "indexof([0.001, 0.01, 0.1, 1, 10], datum.value) >= 0", "value": -5}, "value": -2.5}, "labelExpr": "datum.value == 10 ? '10¹' : datum.value == 1 ? '10⁰' : datum.value == 0.1 ? '10⁻¹' : datum.value == 0.01 ? '10⁻²' : datum.value == 0.001 ? '10⁻³' : ''", "labelPadding": 12, "title": "SFR (M⊙ yr⁻¹)", "titleFontSize": 13.5, "titlePadding": 14}},
            "color": {"field": "model", "type": "nominal", "scale": {"domain": ["m2", "m12", "m13", "m14"], "range": ["#ff0000", "#a52a2a", "#0000ff", "#ffa500"]}, "legend": {"orient": "bottom-left", "offset": 7, "columns": 2, "title": null, "symbolType": "stroke", "symbolSize": 400, "symbolStrokeWidth": 2, "labelOffset": 16, "columnPadding": 31, "rowPadding": 1, "padding": 5, "strokeColor": "black", "fillColor": "white", "cornerRadius": 0}}
          }
        },
        {
          "mark": {"type": "point", "opacity": 0},
          "encoding": {
            "x": {"field": "t", "type": "quantitative", "scale": {"domain": [0, 6], "nice": false}, "axis": {"orient": "top", "values": [0, 1, 2, 3, 4, 5, 6], "tickSize": -5, "labels": false, "title": null}},
            "y": {"field": "v", "type": "quantitative", "scale": {"type": "log", "domain": [0.001, 10], "nice": false}, "axis": {"orient": "right", "values": [0.001,0.002,0.003,0.004,0.005,0.006,0.007,0.008,0.009,0.01,0.02,0.03,0.04,0.05,0.06,0.07,0.08,0.09,0.1,0.2,0.3,0.4,0.5,0.6,0.7,0.8,0.9,1,2,3,4,5,6,7,8,9,10], "tickSize": {"condition": {"test": "indexof([0.001, 0.01, 0.1, 1, 10], datum.value) >= 0", "value": -5}, "value": -2.5}, "labels": false, "title": null}}
          }
        }
      ],
      "resolve": {"axis": {"x": "independent", "y": "independent"}}
    },
    {
      "width": 465, "height": 400,
      "data": {"name": "sfr"},
      "transform": [{"filter": {"field": "model", "oneOf": ["m2", "m15", "m17", "m18"]}}],
      "layer": [
        {
          "mark": {"type": "line", "strokeWidth": 2.2, "clip": true},
          "encoding": {
            "x": {"field": "t", "type": "quantitative", "scale": {"domain": [0, 6], "nice": false}, "axis": {"orient": "bottom", "values": [0, 1, 2, 3, 4, 5, 6], "tickSize": -5, "labels": false, "title": null}},
            "y": {"field": "v", "type": "quantitative", "scale": {"type": "log", "domain": [0.001, 10], "nice": false}, "axis": {"orient": "left", "values": [0.001,0.002,0.003,0.004,0.005,0.006,0.007,0.008,0.009,0.01,0.02,0.03,0.04,0.05,0.06,0.07,0.08,0.09,0.1,0.2,0.3,0.4,0.5,0.6,0.7,0.8,0.9,1,2,3,4,5,6,7,8,9,10], "tickSize": {"condition": {"test": "indexof([0.001, 0.01, 0.1, 1, 10], datum.value) >= 0", "value": -5}, "value": -2.5}, "labels": false, "title": null}},
            "color": {"field": "model", "type": "nominal", "scale": {"domain": ["m2", "m15", "m17", "m18"], "range": ["#ff0000", "#a52a2a", "#0000ff", "#ffa500"]}, "legend": {"orient": "bottom-left", "offset": 7, "columns": 2, "title": null, "symbolType": "stroke", "symbolSize": 400, "symbolStrokeWidth": 2, "labelOffset": 16, "columnPadding": 31, "rowPadding": 1, "padding": 5, "strokeColor": "black", "fillColor": "white", "cornerRadius": 0}}
          }
        },
        {
          "mark": {"type": "point", "opacity": 0},
          "encoding": {
            "x": {"field": "t", "type": "quantitative", "scale": {"domain": [0, 6], "nice": false}, "axis": {"orient": "top", "values": [0, 1, 2, 3, 4, 5, 6], "tickSize": -5, "labels": false, "title": null}},
            "y": {"field": "v", "type": "quantitative", "scale": {"type": "log", "domain": [0.001, 10], "nice": false}, "axis": {"orient": "right", "values": [0.001,0.002,0.003,0.004,0.005,0.006,0.007,0.008,0.009,0.01,0.02,0.03,0.04,0.05,0.06,0.07,0.08,0.09,0.1,0.2,0.3,0.4,0.5,0.6,0.7,0.8,0.9,1,2,3,4,5,6,7,8,9,10], "tickSize": {"condition": {"test": "indexof([0.001, 0.01, 0.1, 1, 10], datum.value) >= 0", "value": -5}, "value": -2.5}, "labels": false, "title": null}}
          }
        }
      ],
      "resolve": {"axis": {"x": "independent", "y": "independent"}}
    },
    {
      "width": 465, "height": 400,
      "data": {"name": "ratio"},
      "transform": [{"filter": {"field": "model", "oneOf": ["m2", "m12", "m13", "m14"]}}],
      "layer": [
        {
          "mark": {"type": "line", "strokeWidth": 2.2, "clip": true},
          "encoding": {
            "x": {"field": "t", "type": "quantitative", "scale": {"domain": [0, 6], "nice": false}, "axis": {"orient": "bottom", "values": [0, 1, 2, 3, 4, 5, 6], "tickSize": -5, "labelPadding": 11, "title": "Time (Gyr)", "titleFontSize": 16.5, "titlePadding": 8}},
            "y": {"field": "v", "type": "quantitative", "scale": {"type": "log", "domain": [0.001, 10], "nice": false}, "axis": {"orient": "left", "values": [0.001,0.002,0.003,0.004,0.005,0.006,0.007,0.008,0.009,0.01,0.02,0.03,0.04,0.05,0.06,0.07,0.08,0.09,0.1,0.2,0.3,0.4,0.5,0.6,0.7,0.8,0.9,1,2,3,4,5,6,7,8,9,10], "tickSize": {"condition": {"test": "indexof([0.001, 0.01, 0.1, 1, 10], datum.value) >= 0", "value": -5}, "value": -2.5}, "labelExpr": "datum.value == 10 ? '10¹' : datum.value == 1 ? '10⁰' : datum.value == 0.1 ? '10⁻¹' : datum.value == 0.01 ? '10⁻²' : datum.value == 0.001 ? '10⁻³' : ''", "labelPadding": 12, "title": "M", "titleFontSize": 28, "titleX": -54, "titleY": 257, "titleAngle": -90, "titleAlign": "left", "titleBaseline": "alphabetic"}},
            "color": {"field": "model", "type": "nominal", "scale": {"domain": ["m2", "m12", "m13", "m14"], "range": ["#ff0000", "#a52a2a", "#0000ff", "#ffa500"]}, "legend": null}
          }
        },
        {
          "mark": {"type": "point", "opacity": 0},
          "encoding": {
            "x": {"field": "t", "type": "quantitative", "scale": {"domain": [0, 6], "nice": false}, "axis": {"orient": "top", "values": [0, 1, 2, 3, 4, 5, 6], "tickSize": -5, "labels": false, "title": null}},
            "y": {"field": "v", "type": "quantitative", "scale": {"type": "log", "domain": [0.001, 10], "nice": false}, "axis": {"orient": "right", "values": [0.001,0.002,0.003,0.004,0.005,0.006,0.007,0.008,0.009,0.01,0.02,0.03,0.04,0.05,0.06,0.07,0.08,0.09,0.1,0.2,0.3,0.4,0.5,0.6,0.7,0.8,0.9,1,2,3,4,5,6,7,8,9,10], "tickSize": {"condition": {"test": "indexof([0.001, 0.01, 0.1, 1, 10], datum.value) >= 0", "value": -5}, "value": -2.5}, "labels": false, "title": null}}
          }
        },
        {
          "mark": {"type": "point", "opacity": 0},
          "encoding": {
            "x": {"field": "t", "type": "quantitative", "scale": {"domain": [0, 6], "nice": false}, "axis": null},
            "y": {"field": "v", "type": "quantitative", "scale": {"type": "log", "domain": [0.001, 10], "nice": false}, "axis": {"orient": "left", "domain": false, "ticks": false, "labels": false, "title": "H2", "titleFontSize": 19.6, "titleFontStyle": "italic", "titleX": -50, "titleY": 227, "titleAngle": -90, "titleAlign": "left", "titleBaseline": "alphabetic"}}
          }
        },
        {
          "mark": {"type": "point", "opacity": 0},
          "encoding": {
            "x": {"field": "t", "type": "quantitative", "scale": {"domain": [0, 6], "nice": false}, "axis": null},
            "y": {"field": "v", "type": "quantitative", "scale": {"type": "log", "domain": [0.001, 10], "nice": false}, "axis": {"orient": "left", "domain": false, "ticks": false, "labels": false, "title": "/M", "titleFontSize": 28, "titleX": -54, "titleY": 200, "titleAngle": -90, "titleAlign": "left", "titleBaseline": "alphabetic"}}
          }
        },
        {
          "mark": {"type": "point", "opacity": 0},
          "encoding": {
            "x": {"field": "t", "type": "quantitative", "scale": {"domain": [0, 6], "nice": false}, "axis": null},
            "y": {"field": "v", "type": "quantitative", "scale": {"type": "log", "domain": [0.001, 10], "nice": false}, "axis": {"orient": "left", "domain": false, "ticks": false, "labels": false, "title": "HI", "titleFontSize": 19.6, "titleFontStyle": "italic", "titleX": -50, "titleY": 166, "titleAngle": -90, "titleAlign": "left", "titleBaseline": "alphabetic"}}
          }
        }
      ],
      "resolve": {"axis": {"x": "independent", "y": "independent"}}
    },
    {
      "width": 465, "height": 400,
      "data": {"name": "ratio"},
      "transform": [{"filter": {"field": "model", "oneOf": ["m2", "m15", "m17", "m18"]}}],
      "layer": [
        {
          "mark": {"type": "line", "strokeWidth": 2.2, "clip": true},
          "encoding": {
            "x": {"field": "t", "type": "quantitative", "scale": {"domain": [0, 6], "nice": false}, "axis": {"orient": "bottom", "values": [0, 1, 2, 3, 4, 5, 6], "tickSize": -5, "labelPadding": 11, "title": "Time (Gyr)", "titleFontSize": 27.5, "titlePadding": 6}},
            "y": {"field": "v", "type": "quantitative", "scale": {"type": "log", "domain": [0.001, 10], "nice": false}, "axis": {"orient": "left", "values": [0.001,0.002,0.003,0.004,0.005,0.006,0.007,0.008,0.009,0.01,0.02,0.03,0.04,0.05,0.06,0.07,0.08,0.09,0.1,0.2,0.3,0.4,0.5,0.6,0.7,0.8,0.9,1,2,3,4,5,6,7,8,9,10], "tickSize": {"condition": {"test": "indexof([0.001, 0.01, 0.1, 1, 10], datum.value) >= 0", "value": -5}, "value": -2.5}, "labels": false, "title": null}},
            "color": {"field": "model", "type": "nominal", "scale": {"domain": ["m2", "m15", "m17", "m18"], "range": ["#ff0000", "#a52a2a", "#0000ff", "#ffa500"]}, "legend": null}
          }
        },
        {
          "mark": {"type": "point", "opacity": 0},
          "encoding": {
            "x": {"field": "t", "type": "quantitative", "scale": {"domain": [0, 6], "nice": false}, "axis": {"orient": "top", "values": [0, 1, 2, 3, 4, 5, 6], "tickSize": -5, "labels": false, "title": null}},
            "y": {"field": "v", "type": "quantitative", "scale": {"type": "log", "domain": [0.001, 10], "nice": false}, "axis": {"orient": "right", "values": [0.001,0.002,0.003,0.004,0.005,0.006,0.007,0.008,0.009,0.01,0.02,0.03,0.04,0.05,0.06,0.07,0.08,0.09,0.1,0.2,0.3,0.4,0.5,0.6,0.7,0.8,0.9,1,2,3,4,5,6,7,8,9,10], "tickSize": {"condition": {"test": "indexof([0.001, 0.01, 0.1, 1, 10], datum.value) >= 0", "value": -5}, "value": -2.5}, "labels": false, "title": null}}
          }
        }
      ],
      "resolve": {"axis": {"x": "independent", "y": "independent"}}
    }
  ],
  "columns": 2,
  "spacing": 0,
  "bounds": "flush",
  "resolve": {"scale": {"x": "independent", "y": "independent", "color": "independent"}, "legend": {"color": "independent"}}
}
